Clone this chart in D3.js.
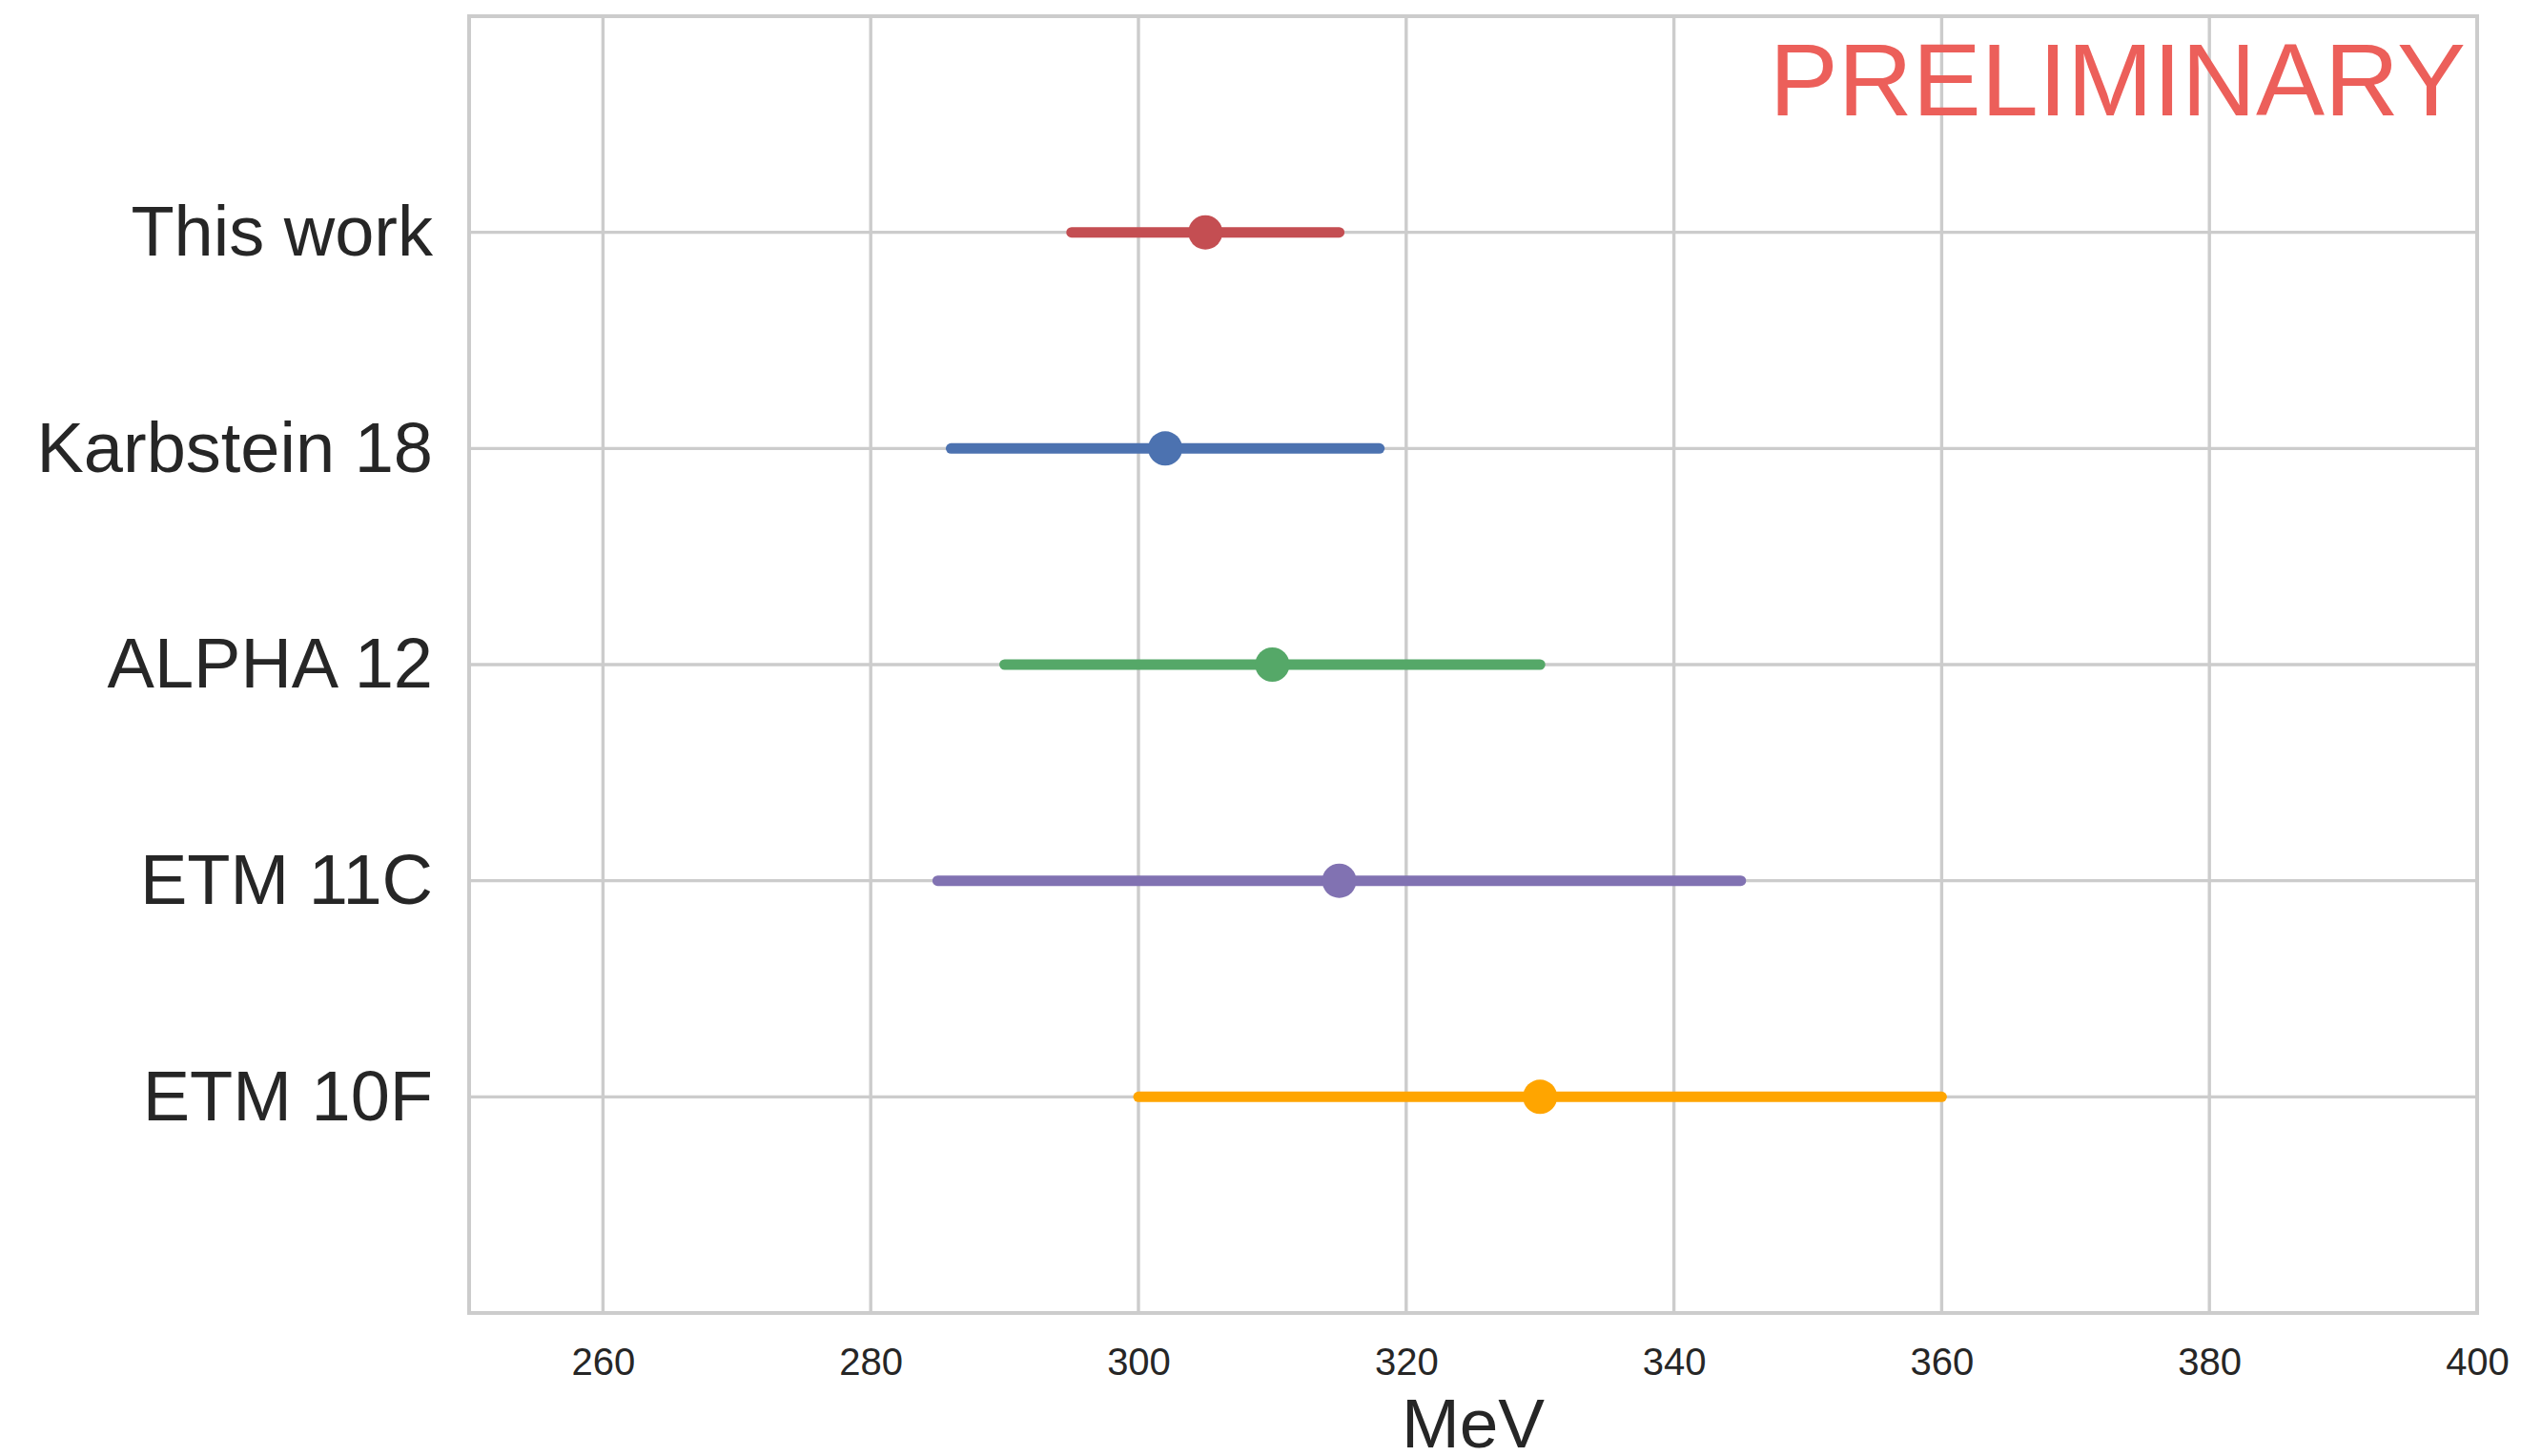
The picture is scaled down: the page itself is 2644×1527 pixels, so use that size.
<!DOCTYPE html>
<html>
<head>
<meta charset="utf-8">
<script src="https://cdn.jsdelivr.net/npm/d3@7"></script>
<style>
  html, body { margin: 0; padding: 0; background: #ffffff; }
  svg { display: block; font-family: "Liberation Sans", Arial, sans-serif; }
</style>
</head>
<body>
<svg id="chart" width="2644" height="1527"></svg>
<script>
// Determinations, top to bottom
const labels = ["This work", "Karbstein 18", "ALPHA 12", "ETM 11C", "ETM 10F"];
const centers = [305, 302, 310, 315, 330];
const lowers = [295, 286, 290, 285, 300];
const uppers = [315, 318, 330, 345, 360];
const colors = ["#c44e52", "#4c72b0", "#55a868", "#8172b2", "#ffa500"];
const xTicks = [260, 280, 300, 320, 340, 360, 380, 400];
const xDomain = [250, 400];

const W = 2644, H = 1527;
const margin = { left: 492, right: W - 2598, top: 17, bottom: H - 1377 };

const svg = d3.select("#chart");
const x = d3.scaleLinear().domain(xDomain).range([margin.left, W - margin.right]);
const y = d3.scaleLinear().domain([-1, labels.length]).range([margin.top, H - margin.bottom]);

const gridColor = "#cccccc";
const textColor = "#262626";

// vertical grid lines
svg.append("g")
  .selectAll("line")
  .data(xTicks)
  .join("line")
  .attr("x1", d => x(d)).attr("x2", d => x(d))
  .attr("y1", y.range()[0]).attr("y2", y.range()[1])
  .attr("stroke", gridColor).attr("stroke-width", 3.4);

// horizontal grid lines at each category
svg.append("g")
  .selectAll("line")
  .data(labels)
  .join("line")
  .attr("x1", x.range()[0]).attr("x2", x.range()[1])
  .attr("y1", (d, i) => y(i)).attr("y2", (d, i) => y(i))
  .attr("stroke", gridColor).attr("stroke-width", 3.4);

// frame
svg.append("rect")
  .attr("x", x.range()[0]).attr("y", y.range()[0])
  .attr("width", x.range()[1] - x.range()[0])
  .attr("height", y.range()[1] - y.range()[0])
  .attr("fill", "none").attr("stroke", gridColor).attr("stroke-width", 4);

// x axis
const xAxis = svg.append("g")
  .attr("transform", `translate(0,${y.range()[1]})`)
  .call(d3.axisBottom(x).tickValues(xTicks).tickSize(0).tickPadding(37));
xAxis.select(".domain").remove();
xAxis.selectAll("text")
  .attr("font-size", 40)
  .attr("fill", textColor)
  .attr("font-family", "'Liberation Sans', Arial, sans-serif");

// y axis labels
const yAxis = svg.append("g")
  .attr("transform", `translate(${x.range()[0]},0)`)
  .call(d3.axisLeft(y).tickValues(d3.range(labels.length)).tickFormat(i => labels[i]).tickSize(0).tickPadding(38));
yAxis.select(".domain").remove();
yAxis.selectAll("text")
  .attr("font-size", 74)
  .attr("fill", textColor)
  .attr("font-family", "'Liberation Sans', Arial, sans-serif");

// x axis title
svg.append("text")
  .attr("x", (x.range()[0] + x.range()[1]) / 2)
  .attr("y", 1518)
  .attr("text-anchor", "middle")
  .attr("font-size", 73)
  .attr("fill", textColor)
  .text("MeV");

// error bars
const rows = labels.map((l, i) => ({ label: l, c: centers[i], lo: lowers[i], hi: uppers[i], color: colors[i], i }));
svg.append("g")
  .selectAll("line")
  .data(rows)
  .join("line")
  .attr("x1", d => x(d.lo)).attr("x2", d => x(d.hi))
  .attr("y1", d => y(d.i)).attr("y2", d => y(d.i))
  .attr("stroke", d => d.color)
  .attr("stroke-width", 11)
  .attr("stroke-linecap", "round");

// central values
svg.append("g")
  .selectAll("circle")
  .data(rows)
  .join("circle")
  .attr("cx", d => x(d.c)).attr("cy", d => y(d.i))
  .attr("r", 18)
  .attr("fill", d => d.color);

// watermark
svg.append("text")
  .attr("x", 2586)
  .attr("y", 121)
  .attr("text-anchor", "end")
  .attr("font-size", 108)
  .attr("fill", "#ec5f5a")
  .text("PRELIMINARY");
</script>
</body>
</html>
